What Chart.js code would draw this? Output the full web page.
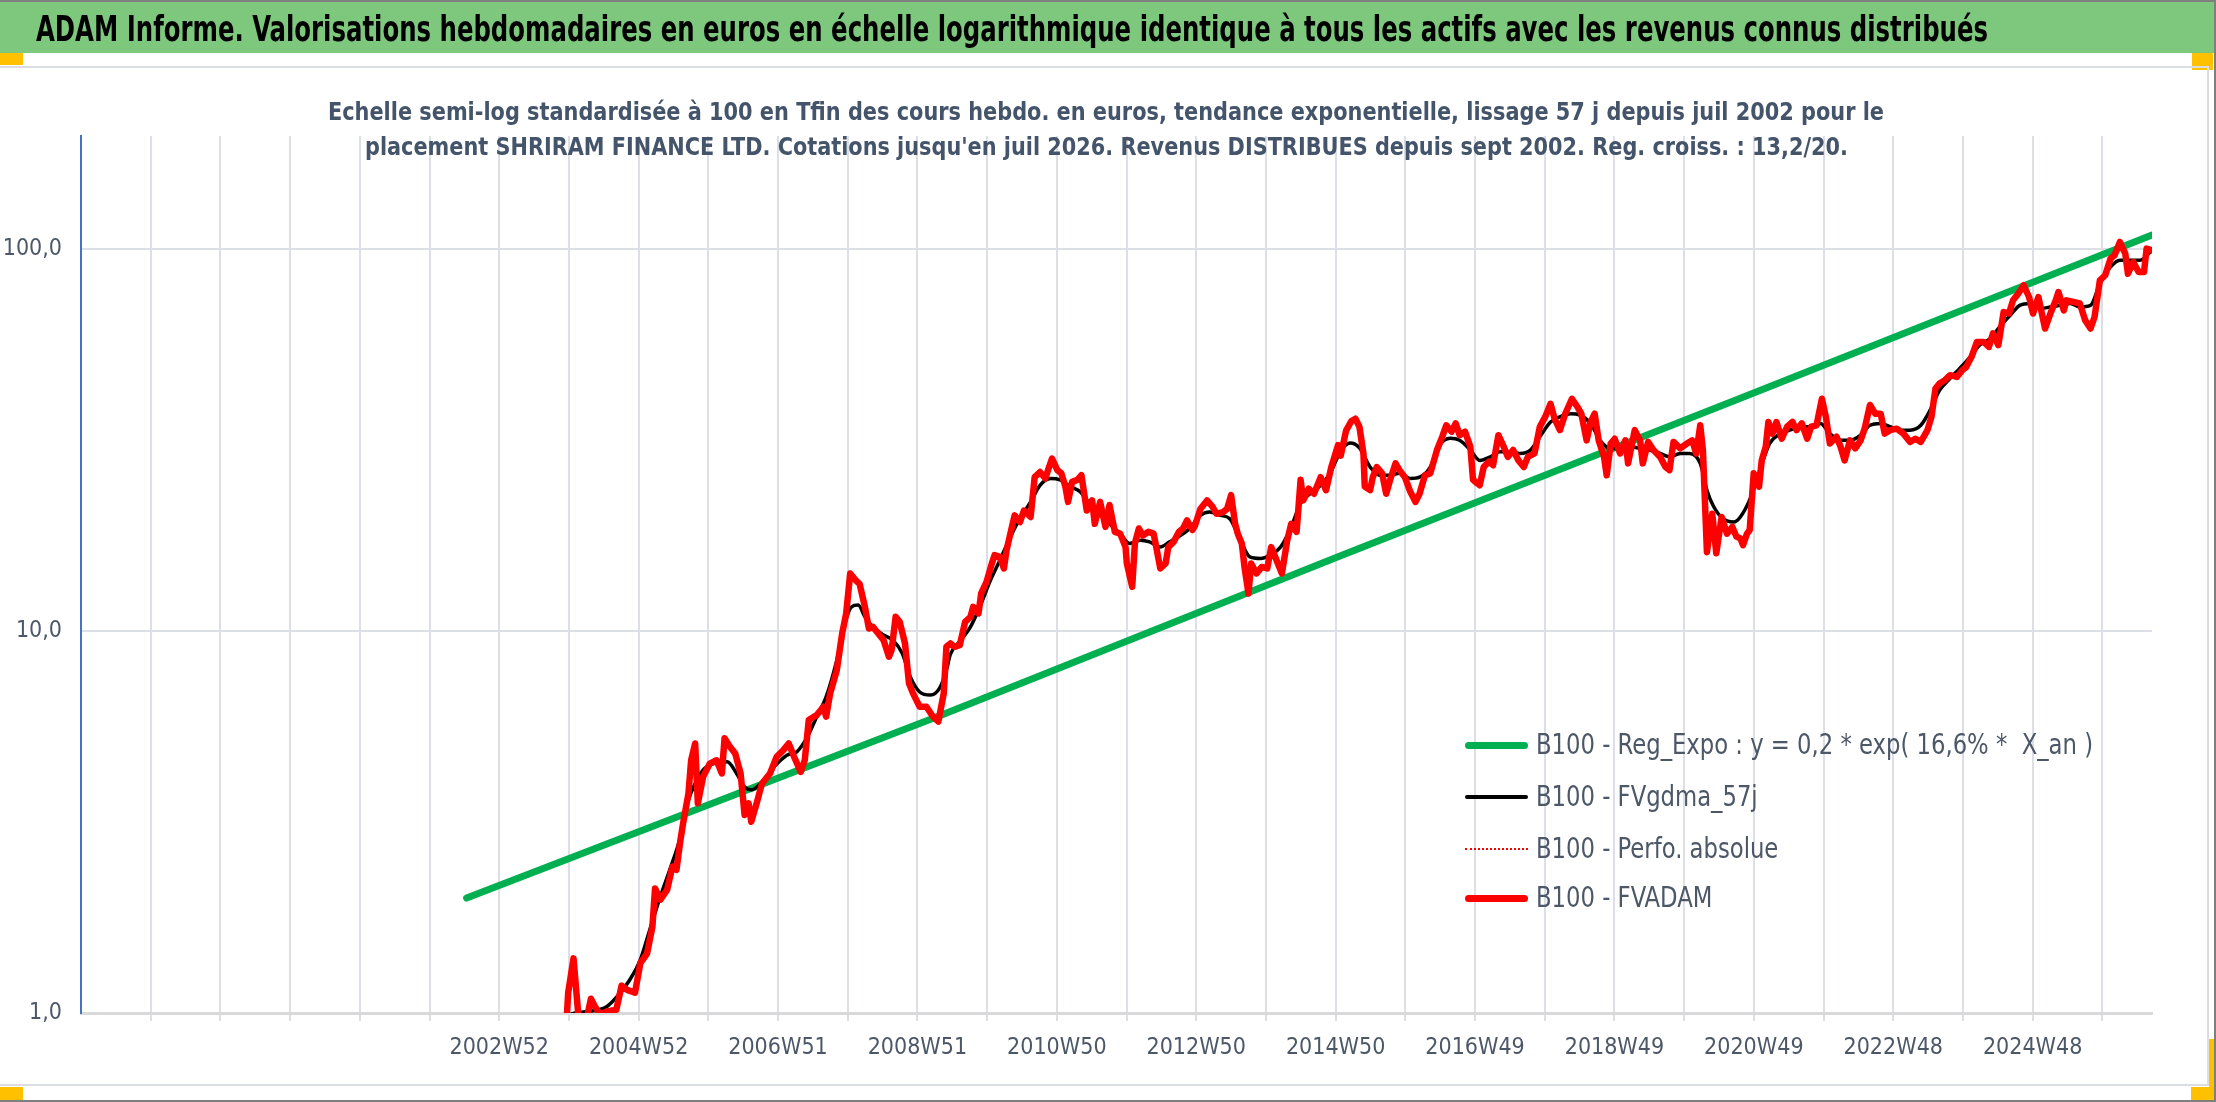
<!DOCTYPE html>
<html lang="fr">
<head>
<meta charset="utf-8">
<title>ADAM Informe - SHRIRAM FINANCE LTD</title>
<script src="https://cdn.jsdelivr.net/npm/chart.js@4.4.1/dist/chart.umd.min.js"></script>
<style>
  html, body { margin: 0; padding: 0; background: #fff; }
  #page {
    position: relative; width: 2216px; height: 1102px; overflow: hidden; background: #fff;
    font-family: "Liberation Sans Narrow", "DejaVu Sans Condensed", "Liberation Sans", sans-serif;
  }
  .box { position: absolute; }
  .txt { position: absolute; white-space: pre; line-height: 1; transform-origin: 0 0; }
  #chart { position: absolute; left: 0; top: 0; }
  .leg { position: absolute; left: 1465px; height: 34px; display: flex; align-items: center; }
  .leg .sample { width: 63px; flex: none; }
  .leg .label {
    display: inline-block; margin-left: 8px; white-space: pre; font-size: 28px; line-height: 1;
    color: #4c5767; transform-origin: 0 50%;
  }
</style>
</head>
<body>
<div id="page">
  <!-- cadre et bandeau -->
  <div class="box" style="left:0;top:0;width:2216px;height:2px;background:#7f7f7f"></div>
  <div class="box" style="left:2214px;top:0;width:2px;height:1102px;background:#7f7f7f"></div>
  <div class="box" style="left:0;top:1100px;width:2216px;height:2px;background:#7f7f7f"></div>
  <div class="box" style="left:0;top:2px;width:2214px;height:51px;background:#7ec87e"></div>
  <div class="box" style="left:0;top:53px;width:23px;height:12px;background:#ffc000"></div>
  <div class="box" style="left:2192px;top:53px;width:21px;height:17px;background:#ffc000"></div>
  <div class="box" style="left:0;top:1087px;width:23px;height:13px;background:#ffc000"></div>
  <div class="box" style="left:2191px;top:1087px;width:23px;height:13px;background:#ffc000"></div>
  <div class="box" style="left:2209px;top:1039px;width:5px;height:61px;background:#ffc000"></div>
  <div class="box" style="left:0;top:66px;width:2209px;height:2px;background:#dadde2"></div>
  <div class="box" style="left:2207px;top:66px;width:2px;height:1020px;background:#dadde2"></div>
  <div class="box" style="left:0;top:1084px;width:2209px;height:2px;background:#dadde2"></div>

  <canvas id="chart" width="2216" height="1102" style="width:2216px;height:1102px"></canvas>

  <div id="title" class="txt" style="left:36px;top:12px;font-size:35px;font-weight:bold;color:#000"></div>
  <div id="sub1" class="txt" style="top:99px;font-size:25px;font-weight:bold;color:#44546a"></div>
  <div id="sub2" class="txt" style="top:134px;font-size:25px;font-weight:bold;color:#44546a"></div>
  <div id="legend"></div>
</div>

<script>
// textes
var titleText = "ADAM Informe. Valorisations hebdomadaires en euros en échelle logarithmique identique à tous les actifs avec les revenus connus distribués";
var subtitleLines = [
	"Echelle semi-log standardisée à 100 en Tfin des cours hebdo. en euros, tendance exponentielle, lissage 57 j depuis juil 2002 pour le",
	"placement SHRIRAM FINANCE LTD. Cotations jusqu'en juil 2026. Revenus DISTRIBUES depuis sept 2002. Reg. croiss. : 13,2/20."
];
var seriesLabels = [
	"B100 - Reg_Expo : y = 0,2 * exp( 16,6% *  X_an )",
	"B100 - FVgdma_57j",
	"B100 - Perfo. absolue",
	"B100 - FVADAM"
];

// axe X : semaines depuis le debut de l'axe, un trait tous les 52 sem., une etiquette sur deux
var xTickLabels = ["2002W52", "2004W52", "2006W51", "2008W51", "2010W50", "2012W50",
	"2014W50", "2016W49", "2018W49", "2020W49", "2022W48", "2024W48"];
var yTickValues = [1, 10, 100];
var yTickLabels = ["1,0", "10,0", "100,0"];

// tendance exponentielle
var regWeeks = [287, 641, 940, 1240, 1548];
var regValues = [2.0, 6.0, 15.7, 40.7, 109];

// moyenne lissee 57 j
var gdmaWeeks = [
	355, 364, 379, 392, 402, 409, 417, 424, 432, 439,
	447, 453, 458, 464, 472, 482, 489, 495, 500, 507,
	517, 527, 534, 542, 549, 556, 564, 570, 575, 580,
	585, 591, 599, 606, 613, 619, 626, 634, 641, 646,
	649, 656, 664, 671, 679, 686, 694, 701, 709, 716,
	724, 731, 739, 746, 753, 761, 768, 776, 783, 791,
	798, 806, 813, 821, 828, 836, 843, 851, 858, 866,
	873, 881, 888, 896, 903, 911, 918, 926, 933, 941,
	948, 955, 963, 970, 978, 985, 993, 1000, 1008, 1015,
	1023, 1030, 1038, 1045, 1053, 1060, 1068, 1075, 1083, 1090,
	1098, 1105, 1113, 1120, 1128, 1135, 1143, 1150, 1158, 1165,
	1172, 1180, 1187, 1195, 1202, 1210, 1215, 1220, 1227, 1235,
	1240, 1248, 1255, 1262, 1270, 1277, 1285, 1292, 1300, 1307,
	1315, 1322, 1330, 1337, 1345, 1352, 1360, 1367, 1375, 1382,
	1389, 1397, 1404, 1412, 1419, 1427, 1434, 1442, 1449, 1457,
	1464, 1472, 1479, 1487, 1494, 1502, 1509, 1517, 1524, 1532,
	1539, 1548
];
var gdmaValues = [
	0.9, 0.99, 1.01, 1.04, 1.13, 1.22, 1.38, 1.65, 2.02, 2.37,
	2.89, 3.61, 3.99, 4.33, 4.50, 4.55, 4.24, 3.91, 3.84, 3.99,
	4.41, 4.74, 4.83, 5.29, 5.97, 6.73, 8.40, 10.47, 11.58, 11.70,
	10.9, 10.26, 9.77, 9.47, 8.74, 7.59, 6.93, 6.80, 7.1, 7.9,
	8.7, 9.4, 10.26, 11.58, 13.6, 15.34, 17.7, 19.7, 21.8, 24.1,
	25.1, 24.9, 23.9, 23.2, 21.6, 20.1, 19.1, 18.0, 16.97, 17.3,
	17.13, 16.6, 17.13, 17.8, 18.57, 20.1, 20.5, 20.1, 19.7, 17.3,
	15.65, 15.5, 15.81, 16.6, 18.4, 21.6, 22.9, 24.1, 25.9, 29.6,
	31.1, 30.2, 26.9, 25.6, 25.6, 25.9, 25.1, 25.3, 26.9, 30.7,
	32.0, 31.6, 29.8, 28.0, 28.6, 29.5, 29.5, 29.2, 29.8, 32.3,
	35.3, 36.4, 37.1, 36.8, 35.0, 31.6, 30.1, 30.1, 30.4, 30.1,
	29.8, 29.2, 28.6, 29.2, 29.2, 27.5, 23.4, 21.2, 19.7, 19.3,
	19.9, 22.5, 26.7, 31.0, 32.9, 33.6, 34.3, 34.3, 35.0, 32.9,
	31.6, 31.6, 32.6, 34.6, 35.0, 34.3, 33.6, 33.6, 34.6, 37.9,
	42.7, 45.9, 48.7, 52.3, 56.1, 58.4, 62.6, 67.2, 71.3, 72.1,
	69.9, 70.6, 71.3, 72.1, 70.6, 71.3, 81.3, 89.9, 93.6, 93.6,
	93.6, 99.4
];

// FVADAM (la perfo absolue est confondue avec elle)
var adamWeeks = [
	352, 362, 363, 367, 371, 377, 380, 383, 387, 392,
	399, 403, 407, 413, 417, 422, 426, 428, 432, 437,
	441, 444, 447, 449, 453, 455, 458, 460, 464, 469,
	474, 478, 480, 484, 488, 492, 495, 498, 500, 504,
	508, 514, 519, 524, 528, 532, 537, 540, 543, 549,
	554, 556, 559, 564, 568, 571, 574, 578, 581, 585,
	588, 591, 595, 599, 603, 605, 608, 611, 615, 618,
	621, 626, 631, 636, 640, 644, 646, 649, 652, 656,
	660, 664, 666, 670, 672, 676, 680, 682, 686, 689,
	691, 695, 697, 701, 704, 709, 712, 716, 720, 722,
	725, 729, 732, 735, 737, 740, 744, 747, 751, 755,
	757, 761, 765, 768, 772, 776, 780, 781, 785, 787,
	790, 793, 797, 801, 803, 806, 810, 812, 816, 820,
	823, 826, 830, 832, 836, 841, 845, 848, 853, 856,
	859, 862, 864, 867, 869, 872, 874, 878, 882, 886,
	889, 893, 897, 901, 904, 908, 911, 913, 917, 921,
	926, 930, 934, 939, 941, 945, 949, 952, 955, 958,
	959, 963, 965, 968, 972, 975, 978, 982, 985, 989,
	993, 997, 1000, 1004, 1008, 1013, 1017, 1020, 1024, 1027,
	1030, 1034, 1038, 1040, 1043, 1045, 1048, 1052, 1055, 1059,
	1063, 1066, 1070, 1074, 1078, 1081, 1086, 1090, 1094, 1098,
	1101, 1105, 1109, 1114, 1118, 1121, 1125, 1128, 1131, 1134,
	1138, 1140, 1143, 1146, 1150, 1154, 1156, 1161, 1165, 1167,
	1171, 1175, 1180, 1184, 1187, 1190, 1195, 1200, 1204, 1207,
	1210, 1212, 1215, 1219, 1222, 1226, 1230, 1234, 1237, 1240,
	1242, 1245, 1247, 1250, 1252, 1254, 1256, 1259, 1261, 1264,
	1267, 1271, 1275, 1279, 1282, 1286, 1290, 1293, 1297, 1301,
	1304, 1307, 1312, 1315, 1318, 1322, 1326, 1330, 1333, 1337,
	1341, 1345, 1348, 1352, 1357, 1362, 1367, 1371, 1375, 1380,
	1383, 1386, 1389, 1393, 1397, 1402, 1406, 1409, 1413, 1417,
	1422, 1426, 1429, 1433, 1437, 1441, 1444, 1448, 1452, 1456,
	1459, 1463, 1468, 1472, 1476, 1478, 1482, 1484, 1489, 1494,
	1498, 1502, 1505, 1509, 1513, 1517, 1520, 1524, 1528, 1530,
	1534, 1538, 1542, 1544, 1548
];
var adamValues = [
	0.85, 0.98, 1.13, 1.39, 0.95, 0.97, 1.09, 1.04, 0.99, 1.01,
	1.02, 1.18, 1.15, 1.13, 1.35, 1.43, 1.68, 2.12, 1.98, 2.10,
	2.42, 2.37, 2.84, 3.14, 3.76, 4.59, 5.08, 3.54, 4.16, 4.50,
	4.59, 4.24, 5.24, 4.98, 4.78, 4.24, 3.30, 3.54, 3.17, 3.54,
	3.99, 4.24, 4.69, 4.88, 5.08, 4.69, 4.28, 4.59, 5.85, 6.03,
	6.34, 5.97, 6.87, 7.91, 9.86, 11.13, 14.16, 13.6, 13.3, 11.58,
	10.16, 10.26, 9.86, 9.47, 8.57, 8.92, 10.9, 10.58, 9.29, 7.30,
	6.87, 6.34, 6.34, 5.97, 5.8, 6.87, 9.10, 9.29, 9.10, 9.19,
	10.58, 10.9, 11.58, 11.13, 12.55, 13.46, 15.04, 15.81, 15.65, 14.59,
	16.3, 18.75, 20.1, 19.3, 20.7, 19.9, 25.3, 26.1, 25.1, 26.4,
	28.3, 26.4, 25.9, 23.9, 21.8, 24.6, 24.9, 25.6, 20.7, 22.0,
	19.1, 21.8, 18.75, 21.4, 18.2, 18.0, 16.6, 15.04, 13.06, 16.97,
	18.57, 17.8, 18.2, 18.0, 16.6, 14.59, 15.04, 16.6, 17.13, 18.2,
	18.57, 19.5, 18.4, 18.9, 20.9, 22.0, 21.2, 20.3, 20.5, 20.9,
	22.7, 19.1, 18.0, 16.97, 14.73, 12.55, 15.04, 14.16, 14.73, 14.59,
	16.6, 15.34, 14.16, 17.3, 19.1, 18.2, 24.9, 22.0, 23.6, 22.9,
	25.3, 23.4, 26.9, 30.7, 28.8, 33.5, 35.5, 36.0, 34.3, 29.2,
	23.9, 23.4, 25.3, 26.9, 25.9, 22.9, 24.9, 27.5, 26.4, 25.3,
	23.2, 21.8, 22.9, 25.6, 25.9, 29.8, 32.3, 34.6, 33.3, 35.0,
	32.6, 33.3, 30.4, 24.9, 24.4, 24.1, 26.9, 27.8, 27.2, 32.6,
	30.4, 28.6, 29.8, 28.0, 26.9, 28.6, 29.2, 34.3, 36.4, 39.4,
	36.0, 33.6, 37.1, 40.6, 38.7, 37.1, 31.6, 35.3, 37.1, 31.6,
	28.6, 25.6, 31.0, 31.9, 29.2, 31.6, 27.5, 33.6, 31.6, 27.5,
	31.3, 29.8, 28.6, 26.9, 26.4, 31.3, 30.1, 31.0, 31.6, 29.2,
	34.6, 29.8, 16.1, 20.3, 16.0, 19.9, 18.0, 18.75, 17.7, 17.5,
	16.8, 18.0, 18.4, 25.9, 25.0, 23.9, 28.0, 30.4, 35.3, 32.9,
	35.3, 31.9, 34.3, 35.3, 33.6, 35.0, 31.9, 34.3, 34.6, 40.6,
	36.4, 31.0, 32.3, 30.4, 28.0, 31.6, 30.1, 31.6, 33.9, 39.1,
	37.1, 37.1, 32.9, 33.6, 33.9, 32.9, 31.3, 31.9, 31.3, 33.6,
	36.4, 43.2, 44.5, 45.4, 46.8, 46.3, 48.2, 49.2, 52.3, 57.2,
	57.2, 55.5, 60.2, 56.1, 68.5, 67.9, 73.5, 76.6, 80.5, 75.0,
	67.9, 75.0, 62.0, 67.9, 73.5, 77.3, 69.2, 73.5, 72.8, 72.1,
	65.2, 62.0, 66.5, 82.9, 85.5, 94.6, 96.5, 104.5, 97.4, 86.3,
	92.6, 87.2, 87.2, 100.4, 99.4
];

// reglages d'axe (positions des traits verticaux)
var xMin = -1.5, xMax = 1548;
var gridOrigin = -1.5, gridStep = 52.15, gridCount = 29, firstLabelTick = 6;

function toPoints(weeks, values) {
	return weeks.map(function(w, i) { return { x: w, y: values[i] }; });
}

var tickColor = '#4c5767';
var gridColor = '#dcdfe5';
Chart.defaults.font.family = '"Liberation Sans Narrow", "DejaVu Sans Condensed", "Liberation Sans", sans-serif';

var ctx = document.getElementById('chart');
var myChart = new Chart(ctx, {
	type: 'line',
	data: {
		datasets: [{
			label: seriesLabels[0],
			data: toPoints(regWeeks, regValues),
			borderColor: '#00b050',
			borderWidth: 7,
			order: 4
		}, {
			label: seriesLabels[1],
			data: toPoints(gdmaWeeks, gdmaValues),
			borderColor: '#000000',
			borderWidth: 3.5,
			cubicInterpolationMode: 'monotone',
			order: 3
		}, {
			label: seriesLabels[2],
			data: toPoints(adamWeeks, adamValues),
			borderColor: '#ff0000',
			borderWidth: 2,
			borderDash: [2, 3],
			order: 2
		}, {
			label: seriesLabels[3],
			data: toPoints(adamWeeks, adamValues),
			borderColor: '#ff0000',
			borderWidth: 6.5,
			order: 1
		}]
	},
	options: {
		responsive: false,
		animation: false,
		events: [],
		elements: {
			point: { radius: 0 },
			line: { tension: 0, borderJoinStyle: 'round', borderCapStyle: 'round', fill: false }
		},
		layout: { padding: { left: 0, top: 136, right: 64, bottom: 39 } },
		plugins: {
			legend: { display: false }, //legende en html
			tooltip: { enabled: false }
		},
		scales: {
			x: {
				type: 'linear',
				min: xMin,
				max: xMax,
				afterBuildTicks: function(axis) {
					var t = [];
					for (var k = 1; k <= gridCount; k++) t.push({ value: gridOrigin + gridStep * k });
					axis.ticks = t;
				},
				afterFit: function(axis) { axis.height = 50; },
				ticks: {
					autoSkip: false,
					maxRotation: 0,
					minRotation: 0,
					padding: 13,
					color: tickColor,
					font: { size: 23 },
					callback: function(value, index) {
						var k = index + 1 - firstLabelTick;
						if (k < 0 || k % 2 !== 0) return '';
						return xTickLabels[k / 2] || '';
					}
				},
				grid: { color: gridColor, lineWidth: 2, drawTicks: true, tickLength: 8, tickColor: gridColor },
				border: { color: '#d9d9d9', width: 3 }
			},
			y: {
				type: 'logarithmic',
				min: 1,
				max: 198,
				afterBuildTicks: function(axis) {
					axis.ticks = yTickValues.map(function(v) { return { value: v }; });
				},
				afterFit: function(axis) { axis.width = 81; },
				ticks: {
					padding: 19,
					color: tickColor,
					font: { size: 23 },
					callback: function(value, index) { return yTickLabels[index]; }
				},
				grid: { color: gridColor, lineWidth: 2, drawTicks: false },
				border: { color: '#4472c4', width: 2 }
			}
		}
	}
});

// legende html, posee dans la zone du graphique
var legendStyles = [
	'height:7px;background:#00b050;border-radius:4px',
	'height:4px;background:#000000;border-radius:2px',
	'height:0;border-top:2px dotted #ff0000',
	'height:7px;background:#ff0000;border-radius:4px'
];
var legendCenters = [745, 797, 849, 898];
var legendBox = document.getElementById('legend');
var legendLabels = [];
seriesLabels.forEach(function(lbl, i) {
	var row = document.createElement('div');
	row.className = 'leg';
	row.style.top = (legendCenters[i] - 17) + 'px';
	var s = document.createElement('div');
	s.className = 'sample';
	s.style.cssText += legendStyles[i];
	var t = document.createElement('span');
	t.className = 'label';
	t.textContent = lbl;
	row.appendChild(s);
	row.appendChild(t);
	legendBox.appendChild(row);
	legendLabels.push(t);
});

document.getElementById('title').textContent = titleText;
document.getElementById('sub1').textContent = subtitleLines[0];
document.getElementById('sub2').textContent = subtitleLines[1];

//ajuste la largeur des textes a celle du modele
function fitText(el, width, centerX) {
	el.style.transform = 'none';
	var w = el.getBoundingClientRect().width;
	var s = width / w;
	el.style.transform = 'scaleX(' + s + ')';
	if (centerX !== undefined) el.style.left = (centerX - width / 2) + 'px';
	return s;
}
function layoutTexts() {
	fitText(document.getElementById('title'), 1952);
	fitText(document.getElementById('sub1'), 1556, 1106);
	fitText(document.getElementById('sub2'), 1483, 1106);
	var s = fitText(legendLabels[0], 557);
	for (var i = 1; i < legendLabels.length; i++) legendLabels[i].style.transform = 'scaleX(' + s + ')';
}
layoutTexts();
if (document.fonts && document.fonts.ready) document.fonts.ready.then(layoutTexts);
</script>
</body>
</html>
